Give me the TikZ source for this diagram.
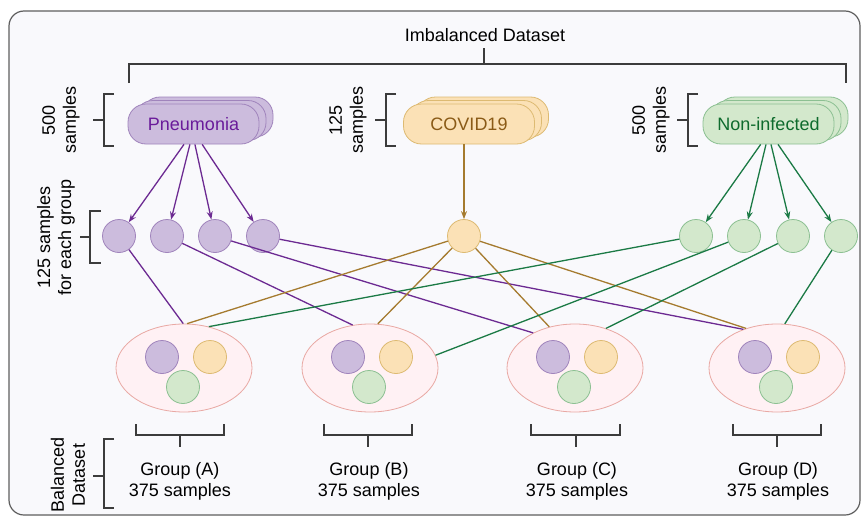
\documentclass[tikz,border=0pt]{standalone}
\usepackage{fontspec}
\setmainfont{Liberation Sans}
\usetikzlibrary{arrows.meta,shapes.geometric}
\definecolor{bgfill}{HTML}{F9F9FC}
\definecolor{framegray}{HTML}{5E5E5E}
\definecolor{brkgray}{HTML}{3C3C3C}
\definecolor{pfill}{HTML}{CCBCDD}
\definecolor{pdraw}{HTML}{A084BC}
\definecolor{pline}{HTML}{6C2A92}
\definecolor{ptext}{HTML}{6A1B9A}
\definecolor{yfill}{HTML}{FBE1B6}
\definecolor{ydraw}{HTML}{DDBA72}
\definecolor{yline}{HTML}{A57B2F}
\definecolor{ytext}{HTML}{8A5A16}
\definecolor{gfill}{HTML}{D3E8CC}
\definecolor{gdraw}{HTML}{8CC092}
\definecolor{gline}{HTML}{1B7A45}
\definecolor{gtext}{HTML}{0E6B2D}
\definecolor{efill}{HTML}{FFF1F4}
\definecolor{edraw}{HTML}{E9A8A3}
\begin{document}
\begin{tikzpicture}[x=1pt,y=-1pt,
  every node/.style={font=\fontsize{18}{21}\selectfont},
  dot/.style={circle, minimum size=33pt, inner sep=0pt, line width=0.8pt},
  pdot/.style={dot, fill=pfill, draw=pdraw},
  ydot/.style={dot, fill=yfill, draw=ydraw},
  gdot/.style={dot, fill=gfill, draw=gdraw},
  cls/.style={rectangle, rounded corners=18pt, minimum width=131pt, minimum height=40pt, inner sep=0pt, line width=0.8pt},
  grp/.style={ellipse, minimum width=136pt, minimum height=88pt, inner sep=0pt, draw=edraw, fill=efill, line width=0.8pt},
  brk/.style={draw=brkgray, line width=1.6pt},
  side/.style={rotate=90, align=center},
  tip/.style={-{Stealth[length=8pt,width=6pt]}},
  pl/.style={draw=pline, line width=1.3pt},
  yl/.style={draw=yline, line width=1.3pt},
  gl/.style={draw=gline, line width=1.3pt}]
\useasboundingbox (0,0) rectangle (862,522);
\draw[draw=framegray, fill=bgfill, rounded corners=15pt, line width=1.2pt] (9,11) rectangle (860,515);
\node (title) at (485,35) {Imbalanced Dataset};
\draw[brk] (129,83) -- (129,64) -- (846,64) -- (846,83);
\draw[brk] (484,64) -- (484,48);
\node[cls, fill=pfill, draw=pdraw] (pneu3) at (207.5,117) {};
\node[cls, fill=pfill, draw=pdraw] (pneu2) at (200.5,120.5) {};
\node[cls, fill=pfill, draw=pdraw, text=ptext] (pneu) at (193.5,124) {Pneumonia};
\node[cls, fill=yfill, draw=ydraw] (covid3) at (483,117) {};
\node[cls, fill=yfill, draw=ydraw] (covid2) at (476,120.5) {};
\node[cls, fill=yfill, draw=ydraw, text=ytext] (covid) at (469,124) {COVID19};
\node[cls, fill=gfill, draw=gdraw] (noninf3) at (782.5,117) {};
\node[cls, fill=gfill, draw=gdraw] (noninf2) at (775.5,120.5) {};
\node[cls, fill=gfill, draw=gdraw, text=gtext] (noninf) at (768.5,124) {Non-infected};
\node[side] (lab500a) at (61,120) {500\\samples};
\draw[brk] (114,94) -- (104,94) -- (104,146) -- (114,146);
\draw[brk] (93,120) -- (104,120);
\node[side] (lab125) at (348,120) {125\\samples};
\draw[brk] (396,94) -- (386,94) -- (386,146) -- (396,146);
\draw[brk] (375,120) -- (386,120);
\node[side] (lab500b) at (651,120) {500\\samples};
\draw[brk] (698,94) -- (688,94) -- (688,146) -- (698,146);
\draw[brk] (677,120) -- (688,120);
\node[pdot] (p1) at (119,236) {};
\node[pdot] (p2) at (167,236) {};
\node[pdot] (p3) at (215,236) {};
\node[pdot] (p4) at (263,236) {};
\node[ydot] (yc) at (464,236) {};
\node[gdot] (g1) at (696,236) {};
\node[gdot] (g2) at (744,236) {};
\node[gdot] (g3) at (793,236) {};
\node[gdot] (g4) at (841,236) {};
\node[side] (labeach) at (56,237) {125 samples\\for each group};
\draw[brk] (101,211) -- (90,211) -- (90,263) -- (101,263);
\draw[brk] (80,237) -- (90,237);
\draw[pl, tip](pneu.-115) -- (p1);
\draw[pl, tip](pneu.-100) -- (p2);
\draw[pl, tip](pneu.-86) -- (p3);
\draw[pl, tip](pneu.-67) -- (p4);
\draw[yl, tip](covid.south -| yc) -- (yc);
\draw[gl, tip](noninf.-111) -- (g1);
\draw[gl, tip](noninf.-97) -- (g2);
\draw[gl, tip](noninf.-83) -- (g3);
\draw[gl, tip](noninf.-65) -- (g4);
\node[grp] (ga) at (184,368) {};
\node[grp] (gb) at (370,368) {};
\node[grp] (gc) at (575,368) {};
\node[grp] (gd) at (777,368) {};
\node[pdot] (ga1) at (162,357) {};
\node[ydot] (ga2) at (210,357) {};
\node[gdot] (ga3) at (183,387) {};
\node[pdot] (gb1) at (348,357) {};
\node[ydot] (gb2) at (396,357) {};
\node[gdot] (gb3) at (369,387) {};
\node[pdot] (gc1) at (553,357) {};
\node[ydot] (gc2) at (601,357) {};
\node[gdot] (gc3) at (574,387) {};
\node[pdot] (gd1) at (755,357) {};
\node[ydot] (gd2) at (803,357) {};
\node[gdot] (gd3) at (776,387) {};
\draw[pl](p1) -- (ga.91);
\draw[pl](p2) -- (gb.112);
\draw[pl](p3) -- (gc.140);
\draw[pl](p4) -- (gd.131);
\draw[yl](yc) -- (ga.86);
\draw[yl](yc) -- (gb.80);
\draw[yl](yc) -- (gc.122);
\draw[yl](yc) -- (gd.128);
\draw[gl](g1) -- (ga.59);
\draw[gl](g2) -- (gb.11);
\draw[gl](g3) -- (gc.52);
\draw[gl](g4) -- (gd.80);
\draw[brk] (136,424) -- (136,435) -- (224,435) -- (224,424);
\draw[brk] (180,435) -- (180,447);
\draw[brk] (324,424) -- (324,435) -- (412,435) -- (412,424);
\draw[brk] (368,435) -- (368,447);
\draw[brk] (531,424) -- (531,435) -- (620,435) -- (620,424);
\draw[brk] (576,435) -- (576,447);
\draw[brk] (733,424) -- (733,435) -- (821,435) -- (821,424);
\draw[brk] (777,435) -- (777,447);
\node[align=center] (labA) at (180,481) {Group (A)\\375 samples};
\node[align=center] (labB) at (369,481) {Group (B)\\375 samples};
\node[align=center] (labC) at (577,481) {Group (C)\\375 samples};
\node[align=center] (labD) at (778,481) {Group (D)\\375 samples};
\node[side] (labbal) at (68,475) {Balanced\\Dataset};
\draw[brk] (114,439) -- (104,439) -- (104,508) -- (114,508);
\draw[brk] (93,476) -- (104,476);
\end{tikzpicture}
\end{document}
